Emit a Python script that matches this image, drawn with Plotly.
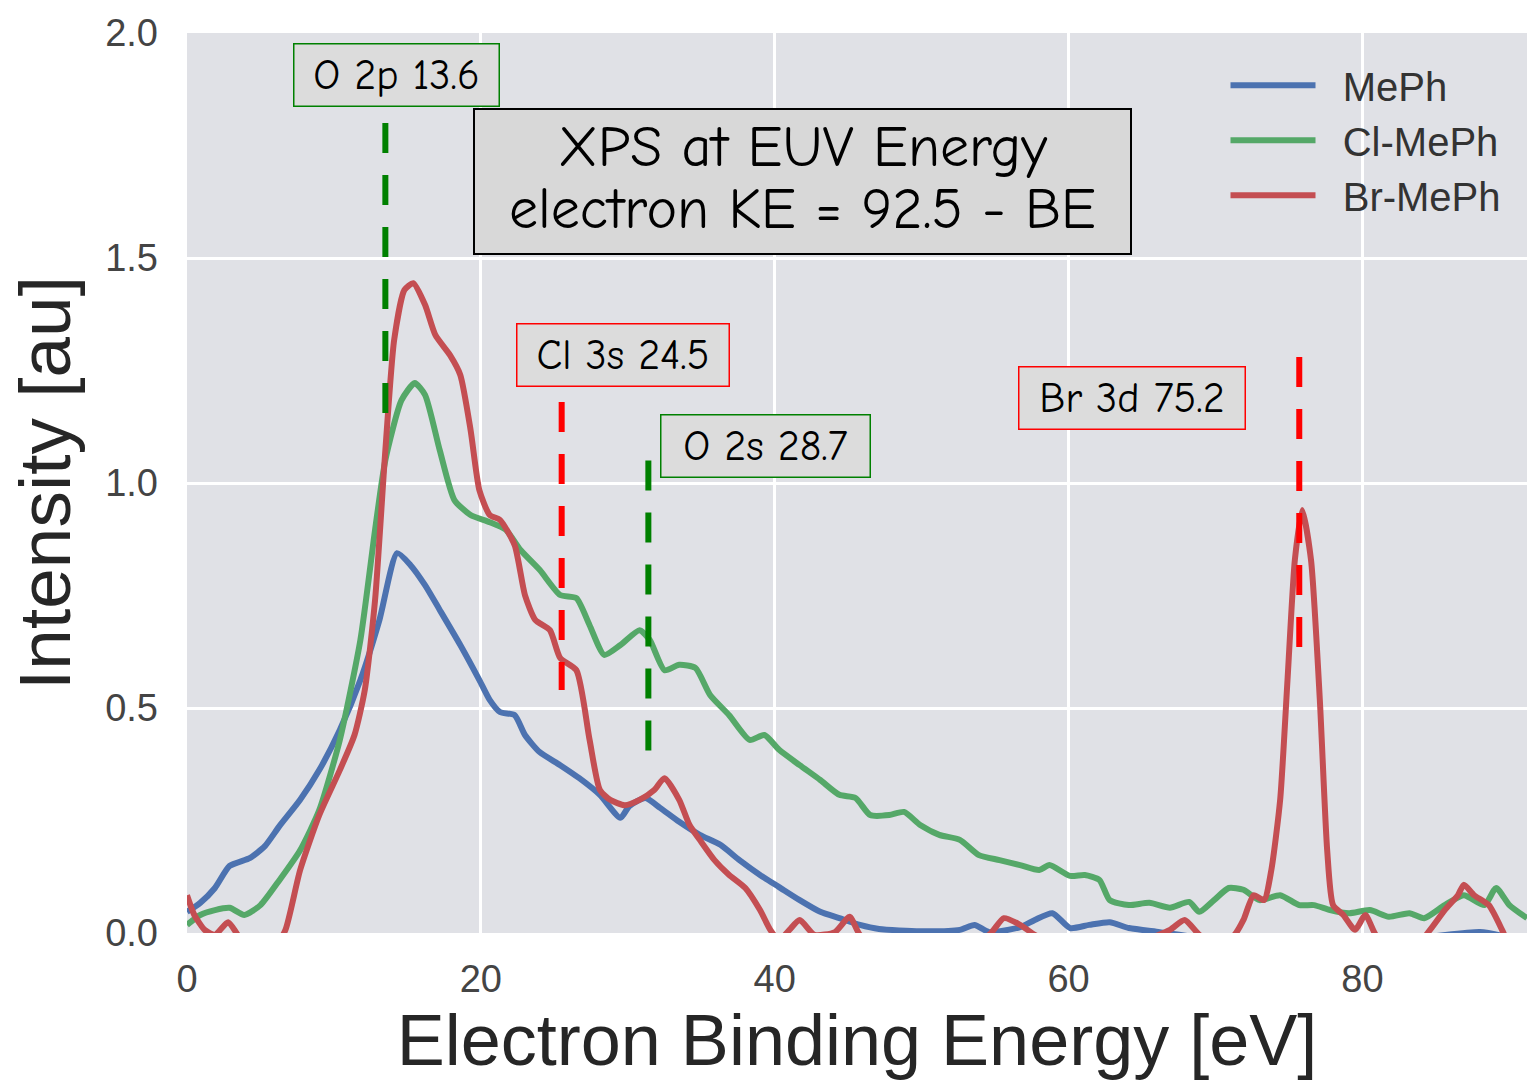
import plotly.graph_objects as go

# ---- data ----
mephe_x = [0.0, 0.9, 1.9, 2.9, 4.3, 5.3, 6.3, 7.7, 9.0, 10.4, 11.8, 13.1, 14.3, 15.2, 16.2, 17.2,
           18.6, 19.9, 20.6, 21.3, 22.3, 23.0, 24.0, 25.4, 26.7, 28.1, 29.5, 30.1, 31.2, 32.2,
           33.5, 34.9, 36.3, 37.6, 39.0, 40.3, 41.7, 43.1, 44.4, 45.8, 47.1, 49.9, 52.6, 53.6,
           54.6, 56.7, 57.7, 58.9, 60.1, 61.4, 62.8, 64.1, 66.2, 68.9, 75.0, 84.0, 88.0, 90.0]
mephe_y = [0.047, 0.067, 0.10, 0.149, 0.167, 0.193, 0.238, 0.296, 0.362, 0.451, 0.562, 0.696,
           0.844, 0.818, 0.773, 0.718, 0.64, 0.562, 0.518, 0.491, 0.484, 0.44, 0.402, 0.373,
           0.344, 0.307, 0.256, 0.282, 0.30, 0.278, 0.247, 0.218, 0.196, 0.162, 0.129, 0.102,
           0.073, 0.047, 0.033, 0.018, 0.009, 0.004, 0.007, 0.018, 0.002, 0.013, 0.029, 0.044,
           0.011, 0.018, 0.024, 0.011, 0.002, -0.01, -0.02, -0.01, 0.002, -0.01]

cl_x = [0.0, 0.9, 1.9, 2.9, 3.9, 5.0, 6.3, 7.7, 9.0, 10.4, 11.8, 12.8, 13.5, 14.6, 15.5, 16.2,
        17.2, 18.2, 19.3, 20.6, 21.7, 22.7, 24.0, 25.4, 26.5, 27.4, 28.4, 29.5, 30.8, 31.5,
        32.5, 33.5, 34.6, 35.6, 36.9, 38.3, 39.3, 40.3, 41.7, 43.1, 44.4, 45.5, 46.5, 47.8,
        48.8, 49.9, 51.2, 52.6, 53.9, 55.3, 56.7, 58.0, 58.7, 60.1, 61.1, 62.1, 62.8, 64.1,
        65.5, 66.9, 68.2, 68.9, 69.9, 70.9, 71.9, 73.0, 74.4, 75.7, 76.7, 77.8, 79.1, 80.5,
        81.8, 83.2, 84.2, 85.6, 86.9, 88.3, 89.1, 90.0, 91.2]
cl_y = [0.018, 0.04, 0.051, 0.056, 0.04, 0.062, 0.118, 0.184, 0.273, 0.429, 0.651, 0.896, 1.051,
        1.184, 1.222, 1.196, 1.073, 0.962, 0.929, 0.913, 0.896, 0.851, 0.807, 0.751, 0.744,
        0.684, 0.618, 0.64, 0.673, 0.651, 0.584, 0.596, 0.589, 0.529, 0.484, 0.429, 0.44,
        0.407, 0.373, 0.34, 0.307, 0.30, 0.262, 0.262, 0.269, 0.24, 0.218, 0.207, 0.173,
        0.162, 0.151, 0.14, 0.151, 0.127, 0.129, 0.118, 0.073, 0.062, 0.067, 0.056, 0.069,
        0.047, 0.073, 0.10, 0.096, 0.073, 0.084, 0.062, 0.062, 0.051, 0.044, 0.051, 0.036,
        0.044, 0.033, 0.062, 0.084, 0.062, 0.10, 0.062, 0.033]

br_x = [0.0, 0.5, 1.2, 1.9, 2.8, 3.6, 5.0, 6.0, 6.7, 7.7, 9.0, 10.4, 11.4, 12.1, 12.8, 13.5,
        14.1, 14.8, 15.4, 16.2, 16.9, 17.9, 18.6, 19.3, 19.9, 20.6, 21.3, 22.3, 23.0, 23.7,
        24.7, 25.4, 26.5, 27.4, 28.1, 28.8, 29.8, 30.8, 31.8, 32.5, 33.5, 34.2, 34.9, 35.9,
        36.9, 38.0, 39.0, 39.7, 40.3, 41.0, 41.7, 42.7, 44.1, 45.1, 45.8, 47.1, 49.9, 52.6,
        54.6, 55.6, 56.7, 57.7, 59.4, 62.1, 64.8, 66.9, 67.9, 68.9, 70.3, 71.3, 71.9, 72.6,
        73.3, 73.8, 74.4, 74.9, 75.4, 75.9, 76.5, 77.1, 77.6, 78.0, 78.7, 79.5, 80.2, 80.9,
        81.8, 83.6, 84.6, 85.6, 86.5, 86.9, 87.6, 88.6, 89.5, 90.0]
br_y = [0.084, 0.04, 0.007, -0.004, 0.024, -0.01, -0.03, -0.03, 0.007, 0.14, 0.262, 0.362, 0.44,
        0.54, 0.74, 1.073, 1.318, 1.429, 1.444, 1.396, 1.329, 1.284, 1.24, 1.118, 0.984, 0.929,
        0.918, 0.862, 0.751, 0.696, 0.673, 0.611, 0.584, 0.429, 0.318, 0.296, 0.284, 0.296,
        0.318, 0.344, 0.296, 0.24, 0.207, 0.162, 0.129, 0.10, 0.051, 0.007, -0.016, 0.007,
        0.029, -0.004, 0.002, 0.036, -0.004, -0.03, -0.03, -0.03, -0.004, 0.033, 0.018,
        -0.004, -0.03, -0.03, -0.02, 0.007, 0.029, -0.004, -0.03, -0.004, 0.029, 0.084, 0.073,
        0.14, 0.296, 0.562, 0.829, 0.94, 0.829, 0.518, 0.184, 0.062, 0.04, 0.007, 0.04, -0.004,
        -0.03, -0.03, 0.007, 0.051, 0.084, 0.107, 0.084, 0.062, 0.007, -0.03]

series_names = ["MePh", "Cl-MePh", "Br-MePh"]
series_colors = ["#4c72b0", "#55a868", "#c44e52"]

# marker lines for peaks (as drawn in the reference)
peak_labels = ["O 2p 13.6", "Cl 3s 24.5", "O 2s 28.7", "Br 3d 75.2"]
peak_x = [13.5, 25.5, 31.4, 75.7]
peak_y_top = [1.80, 1.18, 1.05, 1.28]
peak_y_bot = [1.15, 0.54, 0.40, 0.63]
peak_colors = ["#008000", "#ff0000", "#008000", "#ff0000"]
label_x = [14.25, 29.7, 39.4, 64.35]
label_y = [1.907, 1.284, 1.083, 1.19]
label_w = [207, 214, 211, 228]

title_lines = ["XPS at EUV Energy", "electron KE = 92.5 - BE"]
title_line_y = [1.745, 1.607]

fig = go.Figure()
for xs, ys, name, col in zip([mephe_x, cl_x, br_x], [mephe_y, cl_y, br_y],
                             series_names, series_colors):
    fig.add_trace(go.Scatter(x=xs, y=ys, mode="lines", name="\u00a0\u00a0" + name,
                             line=dict(color=col, width=6, shape="spline", smoothing=0.6)))

for px, yt, yb, col in zip(peak_x, peak_y_top, peak_y_bot, peak_colors):
    fig.add_trace(go.Scatter(x=[px, px], y=[yt, yb], mode="lines", showlegend=False,
                             line=dict(color=col, width=6, dash="30px,22px")))

box_font = "Comic Sans MS, Comic Neue, Noto Sans, sans-serif"
for txt, lx, ly, w, col in zip(peak_labels, label_x, label_y, label_w, peak_colors):
    fig.add_annotation(x=lx, y=ly, xref="x", yref="y", text=txt, showarrow=False,
                       font=dict(family=box_font, size=42, color="black"),
                       bgcolor="#dcdcdc", bordercolor=col, borderwidth=1.5, borderpad=0,
                       width=w - 3, height=61, xanchor="center", yanchor="middle")

# title box
fig.add_annotation(x=41.9, y=1.67, xref="x", yref="y", text=" ", showarrow=False,
                   font=dict(family=box_font, size=20, color="black"),
                   bgcolor="#d8d8d8", bordercolor="black", borderwidth=2, borderpad=0,
                   width=655, height=143, xanchor="center", yanchor="middle")
for txt, ty in zip(title_lines, title_line_y):
    fig.add_annotation(x=41.9, y=ty, xref="x", yref="y", text=txt, showarrow=False,
                       font=dict(family=box_font, size=58, color="black"),
                       xanchor="center", yanchor="middle")

fig.update_layout(
    width=1529, height=1089,
    margin=dict(l=187, r=2, t=33, b=156),
    paper_bgcolor="white", plot_bgcolor="#e0e1e6",
    font=dict(family="Liberation Sans, Arial, sans-serif", color="#333333"),
    showlegend=True,
    legend=dict(x=0.775, y=0.978, xanchor="left", yanchor="top",
                bgcolor="rgba(0,0,0,0)", font=dict(size=40, color="#333333"),
                itemwidth=85),
)
fig.update_xaxes(range=[0, 91.2], tickvals=[0, 20, 40, 60, 80], showgrid=True,
                 gridcolor="white", gridwidth=3, zeroline=False, showline=False,
                 ticks="", tickfont=dict(size=38, color="#444444"), ticklabelstandoff=20,
                 title=dict(text="Electron Binding Energy [eV]", font=dict(size=72, color="#262626"),
                            standoff=14))
fig.update_yaxes(range=[0, 2.0], tickvals=[0, 0.5, 1.0, 1.5, 2.0],
                 ticktext=["0.0", "0.5", "1.0", "1.5", "2.0"], showgrid=True,
                 gridcolor="white", gridwidth=3, zeroline=False, showline=False,
                 ticks="", tickfont=dict(size=38, color="#444444"), ticklabelstandoff=28,
                 title=dict(text="Intensity [au]", font=dict(size=73, color="#262626"),
                            standoff=10))

fig.write_html("out.html")
